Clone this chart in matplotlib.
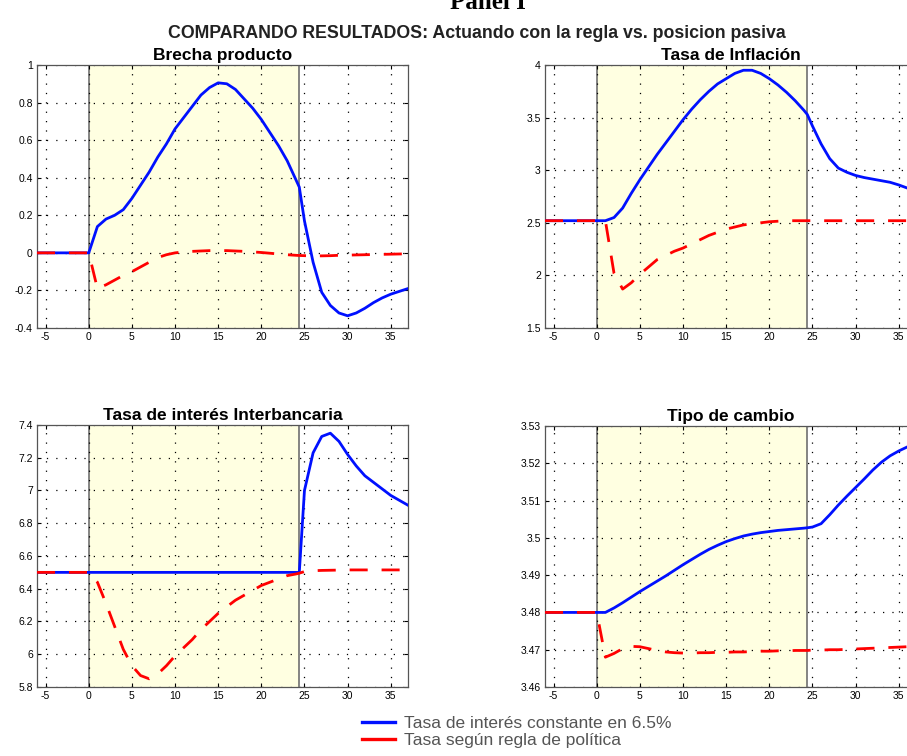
import numpy as np
import matplotlib
matplotlib.use('Agg')
import matplotlib.pyplot as plt
from matplotlib.ticker import FuncFormatter, MultipleLocator

plt.rcParams['font.family'] = ['Liberation Sans', 'DejaVu Sans']
plt.rcParams['axes.unicode_minus'] = False

# periods (the policy-change kink sits at 24.4)
x = list(range(-6, 25)) + [24.4] + list(range(25, 38))

# Brecha producto
gap_const = [0] * 7 + [0.14, 0.18, 0.20, 0.23, 0.29, 0.36, 0.43, 0.51, 0.58, 0.66, 0.72, 0.78,
                       0.84, 0.88, 0.905, 0.90, 0.87, 0.82, 0.77, 0.71, 0.64, 0.57, 0.49, 0.39] + \
            [0.35] + [0.17, -0.05, -0.21, -0.28, -0.32, -0.335, -0.32, -0.295, -0.265, -0.24, -0.22, -0.205, -0.19]
gap_rule = [0] * 7 + [-0.19, -0.17, -0.145, -0.12, -0.10, -0.075, -0.05, -0.025, -0.01, 0.0, 0.005, 0.008,
                      0.01, 0.012, 0.012, 0.012, 0.01, 0.008, 0.005, 0.002, -0.002, -0.006, -0.01, -0.013] + \
           [-0.014] + [-0.015, -0.016, -0.016, -0.015, -0.013, -0.012, -0.011, -0.01, -0.009, -0.008, -0.007, -0.006, -0.005]

# Tasa de Inflacion
inf_const = [2.52] * 7 + [2.52, 2.55, 2.64, 2.78, 2.91, 3.03, 3.15, 3.26, 3.37, 3.48, 3.58, 3.67,
                          3.75, 3.82, 3.87, 3.92, 3.95, 3.95, 3.92, 3.87, 3.81, 3.74, 3.66, 3.57] + \
            [3.53] + [3.42, 3.25, 3.11, 3.02, 2.98, 2.95, 2.93, 2.915, 2.90, 2.885, 2.86, 2.83, 2.81]
inf_rule = [2.52] * 7 + [2.52, 2.02, 1.87, 1.93, 2.01, 2.08, 2.15, 2.19, 2.23, 2.26, 2.30, 2.34,
                         2.38, 2.41, 2.44, 2.46, 2.48, 2.49, 2.50, 2.51, 2.515, 2.52, 2.52, 2.52] + \
           [2.52] + [2.52] * 13

# Tasa de interes interbancaria
int_const = [6.5] * 31 + [6.5] + [7.0, 7.23, 7.33, 7.35, 7.30, 7.22, 7.15, 7.09, 7.05, 7.01, 6.97, 6.94, 6.91]
int_rule = [6.5] * 7 + [6.44, 6.31, 6.17, 6.03, 5.93, 5.87, 5.85, 5.88, 5.93, 5.99, 6.04, 6.09,
                        6.15, 6.20, 6.25, 6.29, 6.33, 6.36, 6.39, 6.42, 6.44, 6.46, 6.48, 6.49] + \
           [6.495] + [6.505, 6.51, 6.512, 6.513, 6.514, 6.515, 6.515, 6.515, 6.515, 6.515, 6.515, 6.515, 6.515]

# Tipo de cambio
fx_const = [3.48] * 7 + [3.48, 3.4812, 3.4826, 3.4841, 3.4856, 3.487, 3.4884, 3.4898, 3.4913, 3.4928, 3.4942, 3.4956,
                         3.4969, 3.498, 3.499, 3.4998, 3.5005, 3.501, 3.5014, 3.5017, 3.502, 3.5022, 3.5024, 3.5026] + \
           [3.5027] + [3.5029, 3.5038, 3.5062, 3.5088, 3.5112, 3.5135, 3.5158, 3.5182, 3.5203, 3.522, 3.5233, 3.5244, 3.5255]
fx_rule = [3.48] * 7 + [3.468, 3.469, 3.4703, 3.4709, 3.4708, 3.4703, 3.4698, 3.4694, 3.4692, 3.4691, 3.4691, 3.4692,
                        3.4692, 3.4693, 3.4693, 3.4694, 3.4694, 3.4695, 3.4696, 3.4696, 3.4697, 3.4697, 3.4698, 3.4698] + \
          [3.4698] + [3.4699, 3.4699, 3.47, 3.47, 3.4701, 3.4702, 3.4703, 3.4704, 3.4705, 3.4706, 3.4707, 3.4708, 3.4709]

titles = ['Brecha producto', 'Tasa de Inflación', 'Tasa de interés Interbancaria', 'Tipo de cambio']
series = [(gap_const, gap_rule), (inf_const, inf_rule), (int_const, int_rule), (fx_const, fx_rule)]
ylims = [(-0.4, 1.0), (1.5, 4.0), (5.8, 7.4), (3.46, 3.53)]
ysteps = [0.2, 0.5, 0.2, 0.01]
window = (0, 24.4)
xticks = [-5, 0, 5, 10, 15, 20, 25, 30, 35]

legend_labels = ['Tasa de interés constante en 6.5%', 'Tasa según regla de política']

W, H = 907, 756
fig = plt.figure(figsize=(W / 100, H / 100), dpi=100)

boxes = [(37, 65, 408, 328), (545, 65, 916, 328), (37, 425, 408, 687), (545, 426, 916, 687)]

for i in range(4):
    l, t, r, b = boxes[i]
    ax = fig.add_axes([l / W, 1 - b / H, (r - l) / W, (b - t) / H])
    ax.axvspan(window[0], window[1], color='#ffffe1', zorder=0, lw=0)
    ax.axvline(window[0], color='#707070', lw=1.2, zorder=1)
    ax.axvline(window[1], color='#707070', lw=1.2, zorder=1)
    c, rr = series[i]
    ax.plot(x, c, color='#0010ff', lw=2.0, zorder=3, solid_joinstyle='round')
    ax.plot(x, rr, color='#ff0000', lw=2.0, zorder=4, dashes=(6.5, 5))
    ax.set_xlim(-6, 37)
    ax.set_ylim(*ylims[i])
    ax.set_xticks(xticks)
    ax.yaxis.set_major_locator(MultipleLocator(ysteps[i]))
    ax.yaxis.set_major_formatter(FuncFormatter(lambda v, p: '%g' % round(v, 4)))
    ax.grid(True, color='black', lw=0.9, linestyle=(0, (1, 6.5)), zorder=2)
    ax.tick_params(direction='in', labelsize=7.5, length=3, top=True, right=True, pad=3)
    for s in ax.spines.values():
        s.set_color('#555555')
        s.set_linewidth(0.9)
    ax.set_title(titles[i], fontsize=12.5, fontweight='bold', pad=3.5)

fig.text(0.538, 1 - 9 / H, 'Panel I', family='Liberation Serif', fontweight='bold',
         fontsize=18, ha='center', va='baseline')
fig.text(0.526, 1 - 33 / H, 'COMPARANDO RESULTADOS: Actuando con la regla vs. posicion pasiva',
         fontsize=12.8, fontweight='bold', ha='center', va='center', color='#222222')

h1, = plt.plot([], [], color='#0010ff', lw=2.4)
h2, = plt.plot([], [], color='#ff0000', lw=2.4)
fig.legend([h1, h2], legend_labels, loc='center left', bbox_to_anchor=(362 / W, 1 - 732 / H),
           frameon=False, fontsize=12.5, handlelength=1.9, labelspacing=0.15, handletextpad=0.5,
           labelcolor='#555555', borderpad=0, borderaxespad=0)

fig.savefig('out.png', dpi=100)
